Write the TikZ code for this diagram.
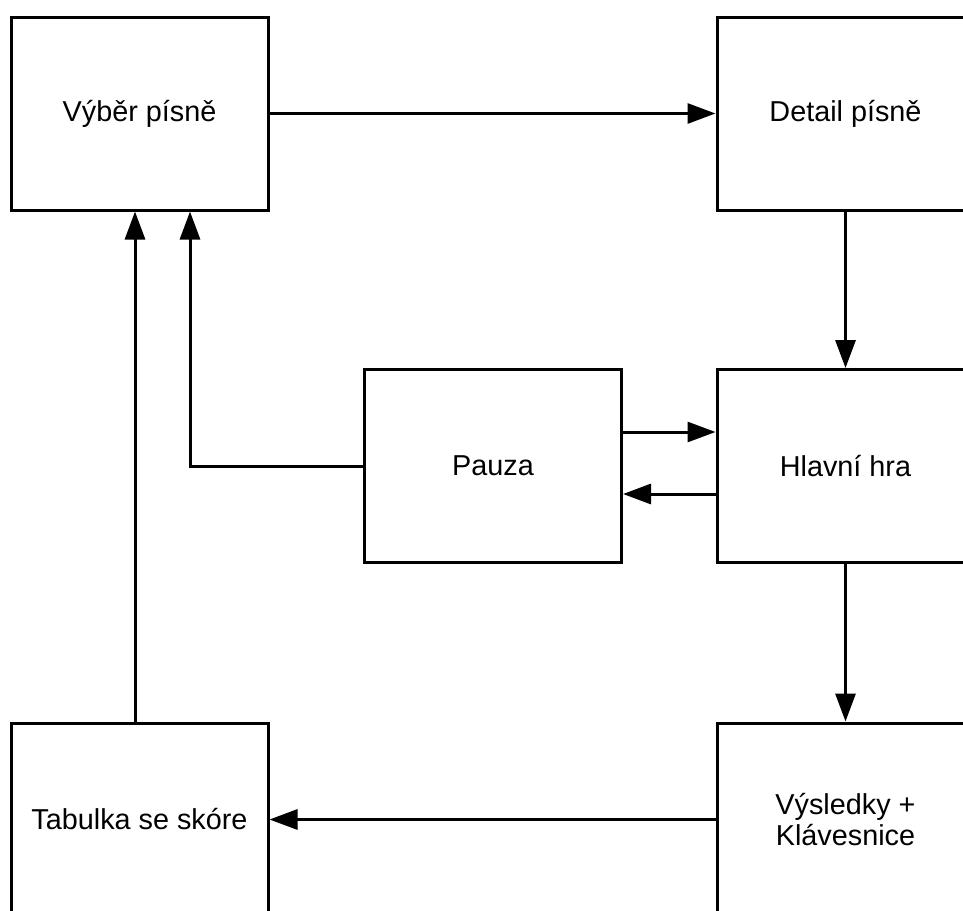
\documentclass[tikz,border=0pt]{standalone}
\usepackage{fontspec}
\setmainfont{Liberation Sans}
\usetikzlibrary{arrows.meta}
\usetikzlibrary{calc}

\begin{document}
\begin{tikzpicture}
    [x=0.5pt,y=-0.5pt,
     screen/.style={rectangle,draw,line width=1.5pt,minimum width=128.5pt,minimum height=96.5pt,
                    align=center,font=\fontsize{14.4}{15.5}\selectfont},
     flow/.style={line width=1.5pt,-{Triangle[length=14pt,width=10pt]}}]

    \useasboundingbox (0,0) rectangle (963,910);
    \clip (0,0) rectangle (963,910);

\node[screen] (vyber) at (139.5,113.5) {Výběr písně};
\node[screen] (detail) at (845.5,113.5) {Detail písně};

\node[screen] (pauza) at (493,466) {Pauza};
\node[screen] (hra) at (845.5,466) {Hlavní hra};

\node[screen] (tabulka) at (139.5,819.5) {Tabulka se skóre};
\node[screen] (vysledky) at (845.5,819.5) {Výsledky +\\Klávesnice};

\draw[flow] (vyber) -- (detail);
\draw[flow] (detail) -- (hra);
\draw[flow] (hra) -- (vysledky);
\draw[flow] (vysledky) -- (tabulka);
\draw[flow] ([xshift=-2.25pt]tabulka.north) -- ([xshift=-2.25pt]vyber.south);
\draw[flow] (pauza.west) -| ([xshift=25.25pt]vyber.south);
\draw[flow] ([yshift=17pt]pauza.east) -- ([yshift=17pt]hra.west);
\draw[flow] ([yshift=-14pt]hra.west) -- ([yshift=-14pt]pauza.east);

  \end{tikzpicture}
\end{document}
